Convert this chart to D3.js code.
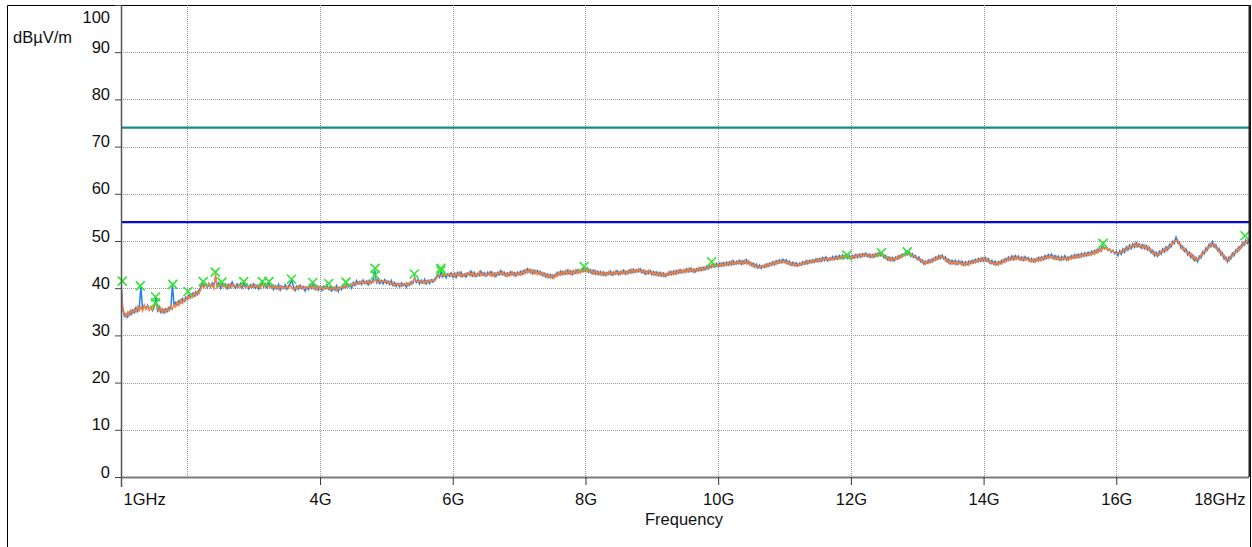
<!DOCTYPE html>
<html>
<head>
<meta charset="utf-8">
<script src="https://cdn.jsdelivr.net/npm/d3@7"></script>
<style>
  html, body { margin: 0; padding: 0; background: #fff; }
  svg { display: block; font-family: "Liberation Sans", Arial, sans-serif; }
</style>
</head>
<body>
<svg id="chart" width="1252" height="547"></svg>
<script>
// Sweep: 1 GHz to 18 GHz, 25 MHz steps (one row of 40 points per GHz)
const freqStart = 1, freqStop = 18;

// Trace 1 (blue), dBµV/m
const traceBlue = [
  // 1 GHz
  41.3,36.0,34.1,34.6,33.9,35.0,34.4,35.3,34.8,35.9, 35.1,36.0,40.3,35.4,36.3,35.6,36.4,35.5,36.0,35.2,
  35.9,38.0,35.3,36.1,34.9,35.5,34.8,35.6,35.1,36.0, 35.6,40.7,36.2,37.0,36.5,37.4,36.9,37.8,37.2,38.1,
  // 2 GHz
  37.7,38.6,38.0,38.9,38.3,39.2,38.6,39.6,40.2,41.2, 40.4,41.0,40.1,40.9,40.2,41.1,40.5,42.4,40.3,41.2,
  40.0,41.1,40.4,40.9,39.9,40.8,40.2,41.3,40.5,40.0, 40.9,40.3,41.0,40.1,41.2,40.4,40.8,39.9,40.7,40.2,
  // 3 GHz
  40.9,40.0,40.6,39.8,40.7,41.2,40.3,40.9,40.1,41.1, 40.2,40.6,39.7,40.5,39.9,40.8,39.6,40.4,40.0,40.7,
  39.8,40.5,41.0,41.7,40.2,39.5,40.4,39.8,40.6,39.9, 40.3,39.4,40.2,39.7,40.8,40.0,41.0,39.8,40.5,39.6,
  // 4 GHz
  40.3,39.5,40.4,39.9,40.7,39.8,40.3,39.4,40.1,39.6, 40.5,39.3,40.2,39.7,40.6,40.1,41.0,40.3,40.8,40.0,
  41.2,40.6,41.6,40.9,41.4,40.8,41.7,41.0,41.5,40.7, 41.6,41.1,41.8,43.8,41.2,41.9,41.0,41.6,40.9,41.8,
  // 5 GHz
  41.0,41.5,40.8,41.6,40.6,41.2,40.4,41.0,40.3,41.1, 40.5,40.9,40.2,41.0,40.6,41.4,41.0,42.3,41.2,41.8,
  40.9,41.7,41.1,41.9,40.9,41.6,41.0,41.8,41.3,41.9, 42.3,42.9,42.3,43.5,42.4,43.1,42.2,43.0,42.5,43.2,
  // 6 GHz
  42.4,43.1,42.3,43.3,42.7,43.4,42.5,43.0,42.4,43.2, 42.8,43.6,42.6,43.3,42.5,43.1,42.7,43.6,42.8,43.3,
  42.6,43.4,42.9,43.5,42.7,43.2,42.5,43.3,42.8,43.7, 42.9,43.4,42.6,43.2,42.7,43.5,42.9,43.3,42.6,43.4,
  // 7 GHz
  42.9,43.6,43.0,43.8,43.3,44.1,43.4,43.9,43.1,43.8, 43.2,43.7,43.0,43.5,42.7,43.2,42.4,43.0,42.3,42.9,
  42.2,42.8,42.5,43.3,42.8,43.6,42.9,43.5,43.0,43.8, 43.1,43.6,42.9,43.7,43.2,43.9,43.3,43.8,43.5,44.2,
  // 8 GHz
  43.6,44.3,43.4,43.9,43.1,43.8,43.0,43.6,42.9,43.5, 42.8,43.4,42.7,43.3,42.9,43.6,42.8,43.4,43.0,43.7,
  42.9,43.5,43.1,43.8,43.0,43.6,43.2,43.9,43.3,44.0, 43.4,43.9,43.5,44.1,43.3,43.8,43.0,43.6,43.1,43.7,
  // 9 GHz
  42.9,43.5,42.8,43.4,42.7,43.3,42.6,43.2,42.5,43.1, 42.8,43.5,42.9,43.6,43.0,43.7,43.2,43.9,43.3,43.8,
  43.4,44.1,43.5,44.2,43.6,44.0,43.4,44.1,43.7,44.3, 43.8,44.4,43.9,44.6,44.1,44.8,44.4,45.1,44.5,45.2,
  // 10 GHz
  44.6,45.3,44.7,45.4,44.8,45.5,44.9,45.6,45.0,45.8, 45.1,45.7,45.2,45.9,45.1,45.8,45.3,46.0,45.2,45.6,
  44.8,45.3,44.5,45.1,44.3,44.9,44.2,44.8,44.4,45.1, 44.6,45.3,44.9,45.6,45.0,45.8,45.3,46.0,45.4,46.1,
  // 11 GHz
  45.5,46.0,45.2,45.7,44.9,45.5,44.8,45.4,44.7,45.3, 44.9,45.6,45.1,45.8,45.2,45.9,45.4,46.0,45.5,46.2,
  45.6,46.3,45.7,46.5,45.9,46.6,45.8,46.4,46.0,46.7, 46.1,46.8,46.2,46.9,46.3,47.0,46.4,47.1,46.3,46.9,
  // 12 GHz
  46.2,46.9,46.4,47.1,46.5,47.2,46.6,47.3,46.8,47.4, 46.7,47.2,46.5,47.1,46.6,47.3,46.8,47.5,46.9,47.3,
  46.4,46.9,46.0,46.6,45.9,46.5,45.8,46.6,46.2,46.9, 46.5,47.2,46.9,47.6,47.1,47.7,46.8,47.3,46.5,46.9,
  // 13 GHz
  46.1,46.6,45.6,46.0,45.1,45.7,45.3,46.0,45.5,46.2, 45.8,46.6,46.1,46.9,46.3,47.0,46.2,46.6,45.6,46.1,
  45.2,45.9,45.3,45.9,45.1,45.8,45.2,45.7,44.9,45.6, 45.0,45.7,45.2,45.9,45.4,46.1,45.6,46.3,45.7,46.4,
  // 14 GHz
  45.8,46.5,45.7,46.2,45.3,45.9,45.1,45.7,45.0,45.6, 45.2,45.9,45.5,46.2,45.8,46.6,46.0,46.8,46.1,46.9,
  46.2,46.8,46.0,46.6,45.9,46.7,46.1,46.5,45.7,46.3, 45.6,46.2,45.8,46.5,45.9,46.6,46.1,46.9,46.3,47.1,
  // 15 GHz
  46.5,47.2,46.3,46.9,46.2,46.8,46.0,46.7,46.1,46.9, 46.0,46.6,46.2,46.9,46.4,47.1,46.5,47.2,46.6,47.4,
  46.8,47.5,46.9,47.6,47.1,47.8,47.3,48.0,47.6,48.3, 47.9,48.6,48.9,48.4,48.7,48.0,48.3,47.6,48.0,47.3,
  // 16 GHz
  47.8,46.9,47.9,47.2,48.3,47.6,48.7,48.1,49.1,48.4, 49.4,48.7,49.6,48.8,49.3,48.5,49.2,48.4,49.0,48.1,
  48.6,47.5,48.0,46.9,47.6,46.8,47.8,47.2,48.3,47.7, 48.7,48.1,49.2,48.7,49.9,49.5,50.8,49.6,49.8,48.5,
  // 17 GHz
  48.9,47.8,48.3,47.1,47.6,46.5,47.0,45.9,46.5,45.6, 46.8,46.4,47.7,47.3,48.5,48.1,49.3,48.8,49.8,48.7,
  49.2,48.0,48.4,47.1,47.5,46.2,46.6,45.6,46.6,46.2, 47.4,46.9,48.1,47.7,48.8,48.4,49.6,49.1,50.2,49.5,
  // 18 GHz
  50.1
];

// Trace 2 (orange), dBµV/m
const traceOrange = [
  // 1 GHz
  41.0,35.2,34.8,33.9,34.9,34.3,35.4,34.7,35.6,35.0, 36.1,35.3,36.0,35.2,36.4,35.5,36.2,35.3,36.1,35.4,
  36.3,36.6,35.9,35.1,35.8,34.8,35.6,34.9,35.7,35.2, 36.3,35.6,36.5,36.0,37.1,36.4,37.5,36.8,37.6,37.3,
  // 2 GHz
  38.3,37.8,38.7,38.1,39.0,38.4,39.3,38.8,39.7,40.6, 40.1,40.9,40.3,41.1,40.4,40.7,39.9,43.0,40.1,40.6,
  40.9,40.2,40.8,40.1,40.7,40.0,40.9,40.3,40.8,40.4, 40.1,40.7,40.2,40.9,40.5,40.0,40.6,40.3,40.1,40.8,
  // 3 GHz
  40.2,40.7,40.1,40.5,40.0,40.8,40.6,40.2,40.8,40.3, 40.5,39.9,40.6,40.0,40.4,39.8,40.5,39.9,40.3,39.9,
  40.4,40.0,40.6,40.1,39.7,40.3,39.8,40.5,40.0,40.4, 39.8,40.3,39.9,40.4,40.0,40.5,39.9,40.3,39.7,40.4,
  // 4 GHz
  39.8,40.3,39.7,40.4,40.0,40.2,39.6,40.1,39.8,40.3, 39.5,40.2,39.9,40.3,40.0,40.6,40.2,40.7,40.4,40.9,
  40.6,41.2,40.8,41.3,40.9,41.5,41.1,41.4,41.0,41.6, 40.9,41.4,41.2,41.9,41.5,41.1,41.7,41.3,41.6,41.2,
  // 5 GHz
  41.6,41.0,41.4,40.8,41.2,40.5,41.0,40.6,40.9,40.4, 41.0,40.7,41.1,40.6,41.2,40.8,41.5,42.1,41.6,41.3,
  41.6,41.1,41.5,41.0,41.6,41.2,41.7,41.4,41.8,41.5, 42.0,42.6,42.8,42.5,42.9,42.6,43.0,42.7,43.1,42.6,
  // 6 GHz
  43.1,42.5,43.2,42.6,43.3,42.4,43.0,42.5,43.2,42.7, 43.4,42.6,43.3,42.5,43.1,42.6,43.5,42.7,43.2,42.6,
  43.0,42.7,43.4,42.6,43.3,42.5,43.2,42.8,43.5,42.9, 43.5,42.7,43.2,42.5,43.3,42.7,43.4,42.6,43.2,42.8,
  // 7 GHz
  43.4,42.8,43.6,43.0,43.9,43.3,44.0,43.2,43.8,43.0, 43.7,42.9,43.6,42.8,43.3,42.6,43.1,42.3,42.9,42.2,
  42.8,42.1,43.0,42.5,43.4,42.8,43.6,42.9,43.7,43.0, 43.8,42.9,43.7,43.0,43.8,43.1,43.9,43.2,44.0,43.5,
  // 8 GHz
  44.2,43.5,44.0,43.3,43.8,43.0,43.7,42.9,43.5,42.8, 43.4,42.7,43.3,42.8,43.5,42.9,43.4,42.8,43.6,43.0,
  43.5,42.9,43.7,43.1,43.6,43.0,43.8,43.2,44.0,43.3, 43.9,43.4,44.1,43.5,43.9,43.2,43.7,43.0,43.8,43.1,
  // 9 GHz
  43.5,42.8,43.4,42.7,43.3,42.6,43.2,42.5,43.1,42.6, 43.4,42.8,43.5,42.9,43.7,43.0,43.8,43.2,43.9,43.3,
  44.0,43.4,44.1,43.5,44.2,43.4,44.1,43.6,44.3,43.7, 44.4,43.8,44.5,44.0,44.7,44.3,45.0,44.5,45.1,44.6,
  // 10 GHz
  45.2,44.6,45.3,44.7,45.4,44.8,45.5,44.9,45.7,45.0, 45.6,45.1,45.8,45.2,45.7,45.1,45.9,45.2,45.8,44.9,
  45.3,44.6,45.1,44.4,44.8,44.3,44.7,44.4,45.0,44.5, 45.2,44.7,45.4,44.9,45.6,45.1,45.8,45.3,45.9,45.4,
  // 11 GHz
  45.9,45.2,45.7,44.9,45.4,44.8,45.3,44.7,45.2,44.8, 45.4,45.0,45.6,45.1,45.8,45.3,45.9,45.4,46.0,45.6,
  46.2,45.7,46.3,45.8,46.4,45.9,46.3,45.9,46.5,46.0, 46.6,46.1,46.7,46.2,46.8,46.3,46.9,46.4,46.8,46.3,
  // 12 GHz
  46.7,46.3,47.0,46.5,47.1,46.6,47.2,46.7,47.3,46.8, 47.2,46.6,47.1,46.5,47.2,46.7,47.4,46.9,47.5,46.8,
  47.0,46.3,46.6,45.9,46.5,45.8,46.4,46.0,46.7,46.2, 47.0,46.6,47.3,46.9,47.7,47.1,47.4,46.7,47.0,46.4,
  // 13 GHz
  46.5,45.9,46.2,45.4,45.8,45.1,45.8,45.3,46.0,45.5, 46.3,45.9,46.7,46.2,46.9,46.4,46.7,45.8,46.2,45.3,
  45.8,45.1,45.7,45.0,45.6,45.1,45.6,44.9,45.4,44.8, 45.5,44.9,45.7,45.2,45.9,45.4,46.1,45.6,46.3,45.7,
  // 14 GHz
  46.4,45.8,46.3,45.5,45.8,45.2,45.6,44.9,45.5,44.9, 45.7,45.2,46.0,45.5,46.3,45.8,46.5,46.0,46.7,46.1,
  46.7,46.1,46.5,45.9,46.5,45.9,46.4,45.8,46.2,45.6, 46.1,45.5,46.3,45.7,46.5,45.9,46.6,46.1,46.8,46.3,
  // 15 GHz
  47.0,46.4,46.8,46.1,46.7,46.0,46.5,45.9,46.6,46.1, 46.5,45.9,46.7,46.2,46.9,46.3,47.0,46.4,47.1,46.6,
  47.3,46.8,47.4,46.9,47.5,47.0,47.8,47.2,48.1,47.5, 48.3,47.8,48.7,48.3,48.7,48.1,48.3,47.7,48.0,47.4,
  // 16 GHz
  47.3,47.6,47.4,47.9,47.6,48.3,48.0,48.8,48.4,49.1, 48.7,49.4,48.8,49.5,48.8,49.2,48.5,49.1,48.3,48.9,
  47.9,48.2,47.3,47.7,46.9,47.4,47.1,47.9,47.6,48.4, 47.9,48.8,48.5,49.4,49.2,50.2,50.0,50.3,49.1,49.2,
  // 17 GHz
  48.2,48.5,47.6,47.9,46.9,47.4,46.3,46.8,45.8,46.3, 46.1,47.1,46.9,48.0,47.7,48.8,48.6,49.5,49.0,49.4,
  48.5,48.7,47.6,47.9,46.8,47.0,45.9,46.3,45.8,46.9, 46.7,47.6,47.4,48.4,48.0,49.0,48.8,49.8,49.4,50.2,
  // 18 GHz
  50.3
];

// Peak markers (frequency GHz, level dBµV/m)
const peakFreq  = [1.02,1.29,1.52,1.52,1.78,2.01,2.24,2.42,2.52,2.85,3.13,3.23,3.57,3.89,4.13,4.39,4.83,4.83,5.42,5.82,5.82,7.98,9.90,11.94,12.46,12.85,15.80,17.94];
const peakLevel = [41.5,40.5,38.2,36.9,40.8,39.3,41.4,43.4,41.3,41.4,41.4,41.4,41.9,41.2,41.0,41.3,44.2,42.8,43.0,44.2,43.7,44.6,45.6,47.0,47.5,47.7,49.5,51.1];

// Limit lines (dBµV/m)
const limitPeak = 74;
const limitAverage = 54;

// Axis ticks
const yTicks = [0,10,20,30,40,50,60,70,80,90,100];
const xGrid = [2,4,6,8,10,12,14,16];
const xTicks = [1,4,6,8,10,12,14,16,18];
const xTickLabels = ["1GHz","4G","6G","8G","10G","12G","14G","16G","18GHz"];

const svg = d3.select("#chart");
const W = 1252, H = 547;
const plot = { left: 121, right: 1249, top: 5, bottom: 477 };
const fontSize = 16.5;

const x = d3.scaleLinear().domain([freqStart, freqStop]).range([plot.left, plot.right]);
const y = d3.scaleLinear().domain([0, 100]).range([plot.bottom, plot.top]);

svg.append("rect").attr("width", W).attr("height", H).attr("fill", "#fff");

// outer frame
svg.append("path")
  .attr("d", `M7.5,${H + 2} V5.5 H1250.5 V${H + 2}`)
  .attr("fill", "none").attr("stroke", "#000").attr("stroke-width", 1);

// grid
const grid = svg.append("g").attr("stroke", "#9a9a9a").attr("stroke-width", 1)
  .attr("stroke-dasharray", "1,1").attr("shape-rendering", "crispEdges");
grid.selectAll("line.h").data(yTicks.filter(v => v > 0 && v < 100)).join("line")
  .attr("x1", plot.left).attr("x2", plot.right)
  .attr("y1", d => Math.round(y(d)) + 0.5).attr("y2", d => Math.round(y(d)) + 0.5);
grid.selectAll("line.v").data(xGrid).join("line")
  .attr("y1", plot.top).attr("y2", plot.bottom)
  .attr("x1", d => Math.round(x(d)) + 0.5).attr("x2", d => Math.round(x(d)) + 0.5);

// clip for traces
svg.append("clipPath").attr("id", "plotClip").append("rect")
  .attr("x", plot.left).attr("y", plot.top)
  .attr("width", plot.right - plot.left).attr("height", plot.bottom - plot.top);

const g = svg.append("g").attr("clip-path", "url(#plotClip)");

// limit lines
g.append("line").attr("x1", plot.left).attr("x2", plot.right)
  .attr("y1", y(limitPeak)).attr("y2", y(limitPeak))
  .attr("stroke", "#178a82").attr("stroke-width", 2.2);
g.append("line").attr("x1", plot.left).attr("x2", plot.right)
  .attr("y1", y(limitAverage)).attr("y2", y(limitAverage))
  .attr("stroke", "#0a0ad8").attr("stroke-width", 2.4);

// each trace spreads its points evenly over the sweep
const traceLine = data => d3.line()
  .x((d, i) => x(freqStart + (freqStop - freqStart) * i / (data.length - 1)))
  .y(d => y(d))(data);

g.append("path").attr("d", traceLine(traceBlue))
  .attr("fill", "none").attr("stroke", "#2382e6").attr("stroke-width", 1.5);
g.append("path").attr("d", traceLine(traceOrange))
  .attr("fill", "none").attr("stroke", "#f5803e").attr("stroke-width", 1.5);

// peak markers
const peaks = peakFreq.map((f, i) => ({ f, v: peakLevel[i] }));
const s = 4.5;
svg.append("g").attr("stroke", "#2fe62f").attr("stroke-width", 1.6)
  .selectAll("path").data(peaks).join("path")
  .attr("d", d => {
    const cx = x(d.f), cy = y(d.v);
    return `M${cx - s},${cy - s}L${cx + s},${cy + s}M${cx - s},${cy + s}L${cx + s},${cy - s}`;
  });

// axes frame
svg.append("line").attr("x1", plot.left).attr("x2", plot.right)
  .attr("y1", plot.bottom + 0.5).attr("y2", plot.bottom + 0.5)
  .attr("stroke", "#7a7a7a").attr("stroke-width", 2);
svg.append("line").attr("x1", plot.left + 0.5).attr("x2", plot.left + 0.5)
  .attr("y1", plot.top).attr("y2", plot.bottom + 10)
  .attr("stroke", "#555").attr("stroke-width", 1.5);
svg.append("line").attr("x1", plot.right + 0.5).attr("x2", plot.right + 0.5)
  .attr("y1", plot.top).attr("y2", plot.bottom)
  .attr("stroke", "#222").attr("stroke-width", 2);

// y axis
const yAxis = d3.axisLeft(y).tickValues(yTicks).tickSize(6).tickPadding(5)
  .tickFormat(d => d);
const yg = svg.append("g").attr("transform", `translate(${plot.left},0)`).call(yAxis);
yg.select(".domain").remove();
yg.selectAll(".tick line").attr("stroke", "#444");
yg.selectAll(".tick text")
  .attr("font-size", fontSize).attr("fill", "#111")
  .attr("font-family", "'Liberation Sans', Arial, sans-serif")
  .attr("dy", d => d === 100 ? 17 : 0)
  .attr("y", 0);

// x axis
const xAxis = d3.axisBottom(x).tickValues(xTicks).tickSize(8).tickPadding(8)
  .tickFormat((d, i) => xTickLabels[i]);
const xg = svg.append("g").attr("transform", `translate(0,${plot.bottom})`).call(xAxis);
xg.select(".domain").remove();
xg.selectAll(".tick line").attr("stroke", "#333")
  .attr("display", d => (d === 1 || d === 18) ? "none" : null);
xg.selectAll(".tick text")
  .attr("font-size", fontSize).attr("fill", "#111")
  .attr("font-family", "'Liberation Sans', Arial, sans-serif")
  .attr("text-anchor", d => d === 1 ? "start" : d === 18 ? "end" : "middle")
  .attr("dx", d => d === 1 ? 2 : d === 18 ? -4 : 0);

// axis titles
svg.append("text").attr("x", 13).attr("y", 43)
  .attr("font-size", fontSize).attr("fill", "#111").text("dBµV/m");
svg.append("text").attr("x", 684).attr("y", 525).attr("text-anchor", "middle")
  .attr("font-size", fontSize).attr("fill", "#111").text("Frequency");
</script>
</body>
</html>
